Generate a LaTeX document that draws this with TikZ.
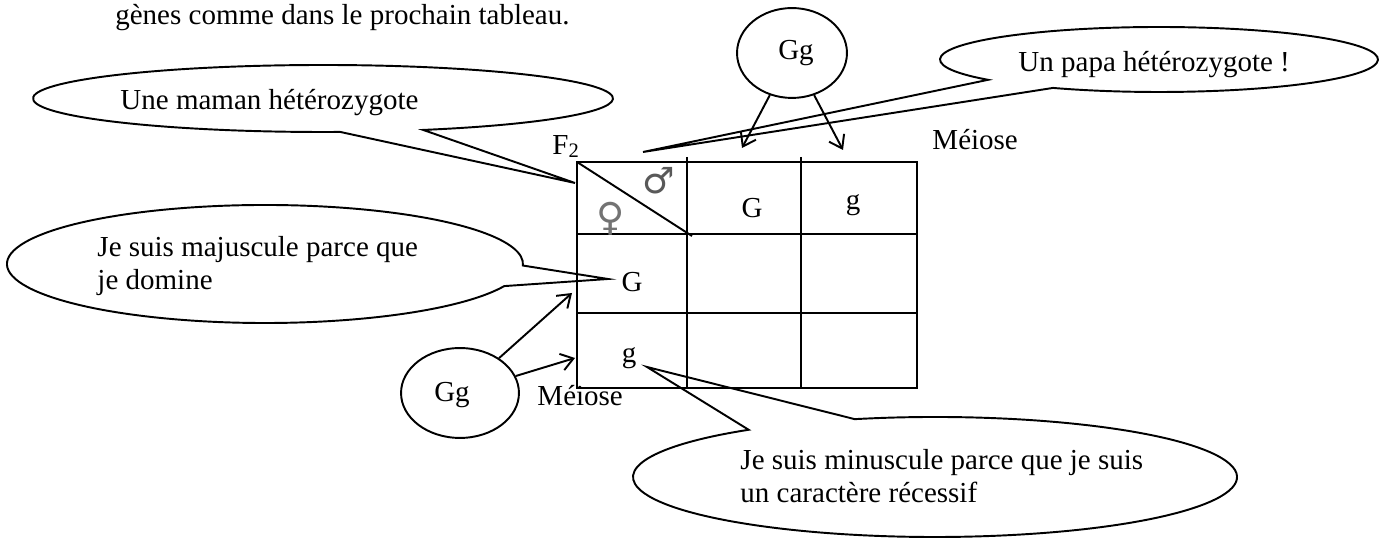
\documentclass[tikz,border=0pt]{standalone}
\usepackage{fontspec}
\setmainfont{Liberation Serif}
\newfontfamily\gsym{DejaVu Sans}
\usetikzlibrary{shapes.geometric,arrows.meta}
\begin{document}
\begin{tikzpicture}[x=0.4138pt,y=-0.4138pt,
  every node/.style={inner sep=0pt, font=\fontsize{12pt}{13.8pt}\selectfont},
  txt/.style={anchor=base west},
  gline/.style={line width=0.8pt},
  bubble/.style={draw, line width=0.8pt, line join=miter},
  parent/.style={draw, ellipse, line width=0.8pt, minimum width=#1},
  arr/.style={line width=0.8pt, -{Straight Barb[length=5pt,width=7pt]}},
]
\useasboundingbox (0,0) rectangle (1385,538);

% running text above the figure
\node[anchor=base east] (intro) at (570,25) {gènes comme dans le prochain tableau.};

% Punnett square
\draw[gline] (577,162) rectangle (917,388);
\draw[gline] (577,234) -- (917,234);
\draw[gline] (577,313) -- (917,313);
\draw[gline] (687,157) -- (687,388);
\draw[gline] (801,157) -- (801,388);
\draw[gline] (577,162) -- (692,236);

\node[anchor=base] (hG) at (752,218) {G};
\node[anchor=base] (hg) at (853,210) {g};
\node[anchor=base] (rG) at (632,292) {G};
\node[anchor=base] (rg) at (629,363) {g};
\node[text=black!65] (male) at (659,181) {\gsym\fontsize{15pt}{15pt}\selectfont ♂};
\node[text=black!55] (female) at (611,219) {\gsym\fontsize{16pt}{16pt}\selectfont ♀};
\node[txt] (f2) at (552,155) {F\raisebox{-1.2pt}{\fontsize{8.5pt}{9pt}\selectfont 2}};

% parents and meiosis arrows
\node[parent=45.5pt, minimum height=37.2pt] (pere) at (792,53) {};
\node[anchor=base] (pereT) at (796,60) {Gg};
\node[parent=48.8pt, minimum height=37.2pt] (mere) at (460,393) {};
\node[anchor=base] (mereT) at (452,402) {Gg};

\coordinate (aG) at (742,148);
\coordinate (ag) at (843,150);
\coordinate (mG) at (572,293);
\coordinate (mg) at (575,358);
\draw[arr] (pere) -- (aG);
\draw[arr] (pere) -- (ag);
\draw[arr] (mere) -- (mG);
\draw[arr] (mere) -- (mg);

\node[txt] (meio1) at (932,150) {Méiose};
\node[txt] (meio2) at (537,406) {Méiose};

% speech bubbles
\coordinate (tipMaman) at (575,183);
\coordinate (tipPapa) at (643,152);
\coordinate (tipMaj) at (608,279);
\coordinate (tipMin) at (647,367);

\draw[bubble] (323,98.5) ++(86.6:290 and 33.5)
  arc[start angle=86.6, end angle=429.8, x radius=290, y radius=33.5]
  -- (tipMaman) -- cycle;
\node[txt] (maman) at (120,110) {Une maman hétérozygote};

\draw[bubble] (1159,59.5) ++(141.3:219 and 32.5)
  arc[start angle=141.3, end angle=478.95, x radius=219, y radius=32.5]
  -- (tipPapa) -- cycle;
\node[txt] (papa) at (1018,72) {Un papa hétérozygote !};

\draw[bubble] (265,264) ++(22:258 and 59)
  arc[start angle=22, end angle=361.5, x radius=258, y radius=59]
  -- (tipMaj) -- cycle;
\node[txt] (majA) at (97,257) {Je suis majuscule parce que};
\node[txt] (majB) at (97,290) {je domine};

\draw[bubble] (935,477) ++(254.6:302 and 60)
  arc[start angle=254.6, end angle=591.9, x radius=302, y radius=60]
  -- (tipMin) -- cycle;
\node[txt] (minA) at (740,470) {Je suis minuscule parce que je suis};
\node[txt] (minB) at (740,503) {un caractère récessif};
\end{tikzpicture}
\end{document}
